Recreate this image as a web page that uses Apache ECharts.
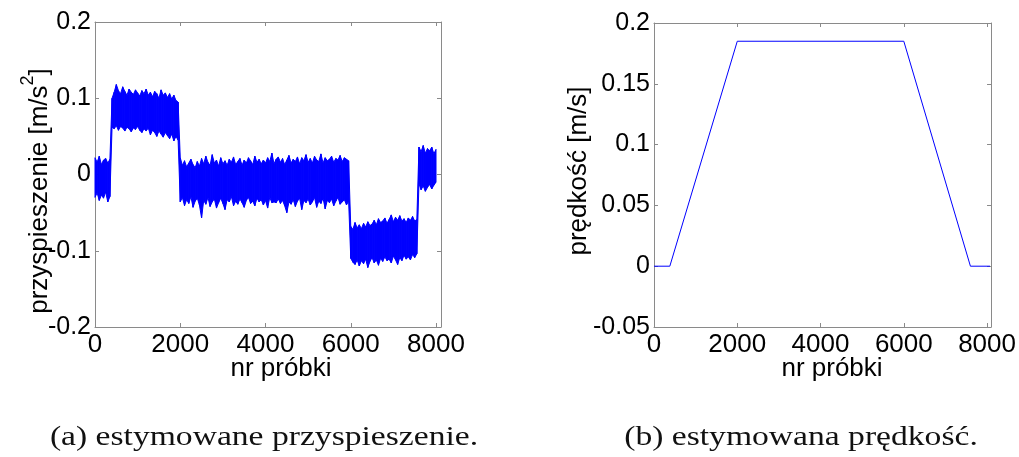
<!DOCTYPE html>
<html>
<head>
<meta charset="utf-8">
<script src="https://cdn.jsdelivr.net/npm/echarts@6/dist/echarts.min.js"></script>
<style>
  html, body { margin: 0; padding: 0; background: #fff; }
  #chart { width: 1019px; height: 457px; }
</style>
</head>
<body>
<div id="chart"></div>
<script>
// ---------------- DATA ----------------
// (a) estimated acceleration: upper / lower envelope of the noisy trace, read every 50 samples
const accStep = 50; // samples between envelope readings (sample index i*accStep)
const accHi = [
  // 0 - 350
  0.022, 0.016, 0.024, 0.013, 0.019, 0.021, 0.015, 0.020,
  // 400 - 1950
  0.100, 0.108, 0.118, 0.110, 0.106, 0.115, 0.109, 0.104, 0.112, 0.108,
  0.105, 0.111, 0.107, 0.103, 0.110, 0.106, 0.112, 0.104, 0.108, 0.102,
  0.109, 0.106, 0.100, 0.111, 0.104, 0.107, 0.101, 0.106, 0.099, 0.104,
  0.097, 0.095,
  // 2000 - 5950
  0.022, 0.012, 0.018, 0.010, 0.015, 0.020, 0.013, 0.009, 0.017, 0.011,
  0.021, 0.014, 0.024, 0.016, 0.012, 0.026, 0.015, 0.019, 0.011, 0.022,
  0.014, 0.018, 0.012, 0.020, 0.016, 0.023, 0.013, 0.017, 0.021, 0.012,
  0.019, 0.015, 0.022, 0.018, 0.013, 0.024, 0.016, 0.020, 0.014, 0.019,
  0.015, 0.022, 0.017, 0.028, 0.014, 0.020, 0.023, 0.016, 0.021, 0.013,
  0.019, 0.025, 0.015, 0.020, 0.017, 0.023, 0.014, 0.022, 0.018, 0.026,
  0.016, 0.021, 0.015, 0.024, 0.019, 0.017, 0.027, 0.015, 0.022, 0.018,
  0.020, 0.024, 0.016, 0.021, 0.019, 0.025, 0.017, 0.022, 0.020, 0.018,
  // 6000 - 7550
  -0.068, -0.072, -0.063, -0.070, -0.066, -0.071, -0.064, -0.069, -0.062, -0.067,
  -0.065, -0.060, -0.066, -0.058, -0.063, -0.061, -0.057, -0.064, -0.059, -0.053,
  -0.062, -0.056, -0.060, -0.054, -0.061, -0.058, -0.063, -0.057, -0.060, -0.055,
  -0.061, -0.059,
  // 7600 - 8000
  0.036, 0.030, 0.038, 0.028, 0.034, 0.031, 0.036, 0.027, 0.033
];
const accLo = [
  // 0 - 350
  -0.030, -0.024, -0.034, -0.027, -0.031, -0.023, -0.036, -0.029,
  // 400 - 1950
  0.062, 0.060, 0.064, 0.058, 0.063, 0.061, 0.057, 0.062, 0.060, 0.056,
  0.061, 0.059, 0.063, 0.058, 0.055, 0.060, 0.057, 0.061, 0.052, 0.058,
  0.055, 0.050, 0.057, 0.053, 0.049, 0.055, 0.051, 0.047, 0.053, 0.044,
  0.050, 0.045,
  // 2000 - 5950
  -0.036, -0.030, -0.041, -0.033, -0.038, -0.029, -0.043, -0.035, -0.031, -0.040,
  -0.057, -0.034, -0.039, -0.030, -0.042, -0.036, -0.032, -0.044, -0.037, -0.031,
  -0.038, -0.046, -0.033, -0.036, -0.029, -0.041, -0.035, -0.039, -0.032, -0.037,
  -0.043, -0.034, -0.030, -0.038, -0.035, -0.041, -0.031, -0.036, -0.033, -0.040,
  -0.034, -0.044, -0.030, -0.037, -0.036, -0.037, -0.032, -0.038, -0.034, -0.041,
  -0.050, -0.036, -0.039, -0.033, -0.042, -0.035, -0.031, -0.046, -0.034, -0.037,
  -0.032, -0.040, -0.036, -0.030, -0.043, -0.035, -0.038, -0.031, -0.045, -0.034,
  -0.037, -0.032, -0.041, -0.035, -0.030, -0.039, -0.036, -0.033, -0.040, -0.035,
  // 6000 - 7550
  -0.110, -0.115, -0.118, -0.112, -0.120, -0.113, -0.117, -0.111, -0.122, -0.114,
  -0.109, -0.116, -0.112, -0.119, -0.110, -0.114, -0.108, -0.113, -0.111, -0.116,
  -0.107, -0.112, -0.118, -0.109, -0.113, -0.106, -0.111, -0.108, -0.112, -0.105,
  -0.109, -0.104,
  // 7600 - 8000
  -0.012, -0.020, -0.015, -0.022, -0.017, -0.013, -0.019, -0.014, -0.010
];

// (b) estimated velocity: breakpoints of the piecewise-linear trace
const velSamples = [0, 380, 2000, 6000, 7600, 8070];
const velValues  = [0, 0, 0.185, 0.185, 0, 0];

// axes
const xTicks = [0, 2000, 4000, 6000, 8000];
const accYTicks = [-0.2, -0.1, 0, 0.1, 0.2];
const velYTicks = [-0.05, 0, 0.05, 0.1, 0.15, 0.2];
const accXMax = 8117;
const velXMax = 8095;

const texts = {
  xName: 'nr próbki',
  accY: 'przyspieszenie [m/s',
  accYSup: '2',
  accYEnd: ']',
  velY: 'prędkość [m/s]',
  capA: '(a) estymowane przyspieszenie.',
  capB: '(b) estymowana prędkość.'
};

// ---------------- BUILD ----------------
// one band piece per envelope interval: [x0, hi0, lo0, x1, hi1, lo1]
const accBand = [];
for (let i = 0; i + 1 < accHi.length; i++) {
  accBand.push([i * accStep, accHi[i], accLo[i], (i + 1) * accStep, accHi[i + 1], accLo[i + 1]]);
}
const velData = velSamples.map((s, i) => [s, velValues[i]]);

const FONT = 'Liberation Sans, Arial, Helvetica, sans-serif';
const SERIF = 'Liberation Serif, DejaVu Serif, serif';
const AX = '#8a8a8a';
const BLUE = '#0000ff';

function xAxisPair(gi, max) {
  const base = {
    gridIndex: gi, type: 'value', min: 0, max: max, interval: 2000,
    axisLine: { show: true, onZero: false, lineStyle: { color: AX, width: 1 } },
    axisTick: { show: true, inside: true, length: 4, lineStyle: { color: AX } },
    splitLine: { show: false }
  };
  return [
    Object.assign({}, base, {
      position: 'bottom',
      axisLabel: {
        show: true, margin: 5, fontSize: 26, color: '#000', fontFamily: FONT,
        showMaxLabel: false,
        formatter: v => (xTicks.indexOf(v) >= 0 ? String(v) : '')
      }
    }),
    Object.assign({}, base, { position: 'top', axisLabel: { show: false } })
  ];
}
function yAxisPair(gi, min, max, interval) {
  const base = {
    gridIndex: gi, type: 'value', min: min, max: max, interval: interval,
    axisLine: { show: true, onZero: false, lineStyle: { color: AX, width: 1 } },
    axisTick: { show: true, inside: true, length: 4, lineStyle: { color: AX } },
    splitLine: { show: false }
  };
  return [
    Object.assign({}, base, {
      position: 'left',
      axisLabel: {
        show: true, margin: 4, fontSize: 25, color: '#000', fontFamily: FONT,
        formatter: v => String(Math.round(v * 1000) / 1000)
      }
    }),
    Object.assign({}, base, { position: 'right', axisLabel: { show: false } })
  ];
}

const chart = echarts.init(document.getElementById('chart'), null, { renderer: 'canvas' });
chart.setOption({
  animation: false,
  backgroundColor: '#fff',
  grid: [
    { left: 95, top: 22, width: 346, height: 305, containLabel: false },
    { left: 654, top: 23, width: 339, height: 304, containLabel: false }
  ],
  xAxis: [].concat(xAxisPair(0, accXMax), xAxisPair(1, velXMax)),
  yAxis: [].concat(
    yAxisPair(0, accYTicks[0], accYTicks[accYTicks.length - 1], 0.1),
    yAxisPair(1, velYTicks[0], velYTicks[velYTicks.length - 1], 0.05)
  ),
  series: [
    {
      type: 'custom', xAxisIndex: 0, yAxisIndex: 0, data: accBand,
      encode: { x: [0, 3], y: [1, 2, 4, 5] },
      renderItem: function (params, api) {
        const p1 = api.coord([api.value(0), api.value(1)]);
        const p2 = api.coord([api.value(3), api.value(4)]);
        const p3 = api.coord([api.value(3), api.value(5)]);
        const p4 = api.coord([api.value(0), api.value(2)]);
        return {
          type: 'polygon',
          shape: { points: [p1, p2, p3, p4] },
          style: { fill: BLUE, stroke: BLUE, lineWidth: 1 }
        };
      }
    },
    {
      type: 'line', xAxisIndex: 2, yAxisIndex: 2, data: velData,
      showSymbol: false, symbol: 'none',
      lineStyle: { color: BLUE, width: 1 }
    }
  ],
  graphic: [
    { type: 'text', x: 281, y: 369, style: { text: texts.xName, font: '26px ' + FONT, fill: '#000', align: 'center', verticalAlign: 'middle' } },
    { type: 'text', x: 832, y: 369, style: { text: texts.xName, font: '26px ' + FONT, fill: '#000', align: 'center', verticalAlign: 'middle' } },
    { type: 'text', x: 36, y: 191, rotation: Math.PI / 2,
      style: {
        text: '{n|' + texts.accY + '}{s|' + texts.accYSup + '}{n|' + texts.accYEnd + '}',
        align: 'center', verticalAlign: 'middle',
        rich: {
          n: { fontSize: 26, fontFamily: FONT, fill: '#000', lineHeight: 34, verticalAlign: 'bottom' },
          s: { fontSize: 18, fontFamily: FONT, fill: '#000', lineHeight: 34, verticalAlign: 'top' }
        }
      } },
    { type: 'text', x: 579, y: 171, rotation: Math.PI / 2,
      style: { text: texts.velY, font: '26px ' + FONT, fill: '#000', align: 'center', verticalAlign: 'middle' } },
    { type: 'text', x: 264, y: 438, scaleX: 1.2, style: { text: texts.capA, font: '28px ' + SERIF, fill: '#111', align: 'center', verticalAlign: 'middle' } },
    { type: 'text', x: 801, y: 438, scaleX: 1.2, style: { text: texts.capB, font: '28px ' + SERIF, fill: '#111', align: 'center', verticalAlign: 'middle' } }
  ]
});
</script>
</body>
</html>
